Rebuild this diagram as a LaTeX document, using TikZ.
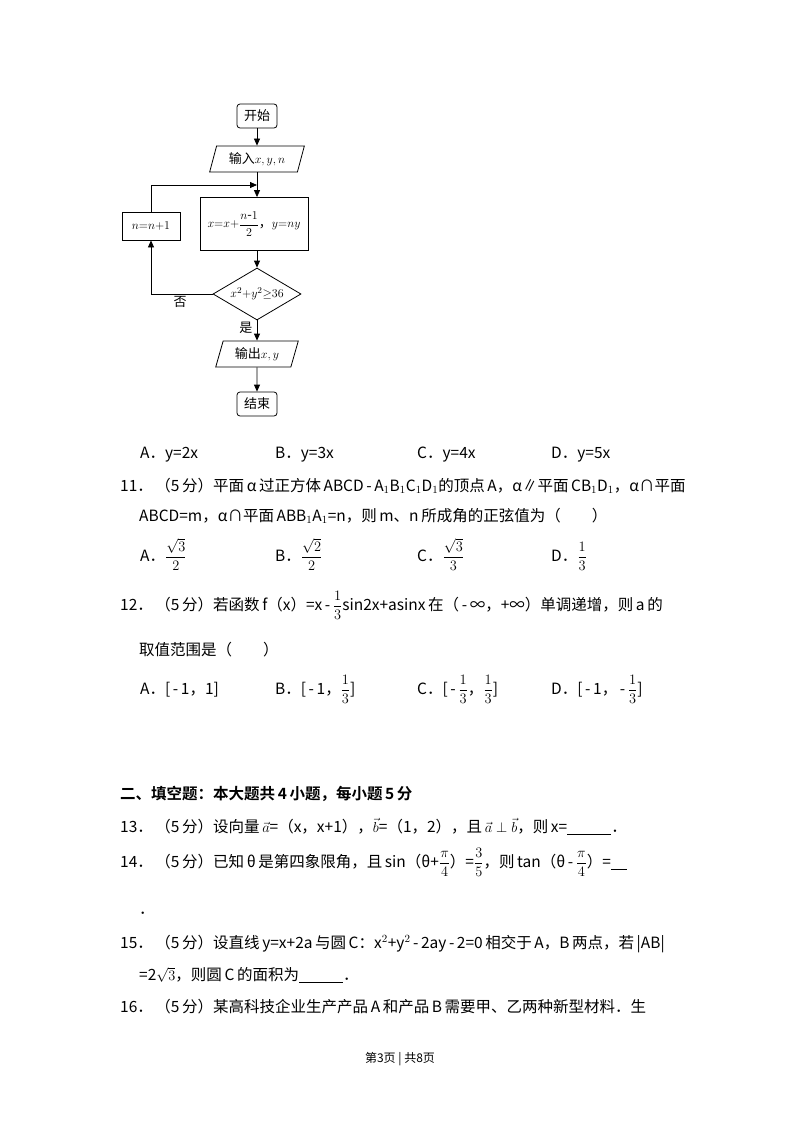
\documentclass[tikz,border=0pt]{standalone}
\usepackage{fontspec}
\usepackage{amsmath}
\setmainfont{Noto Sans CJK SC}
\newfontfamily\bfcjk{Noto Sans CJK SC Bold}
\usetikzlibrary{shapes.geometric,arrows.meta}
\tikzset{
  fc/.style={draw,line width=0.8pt,inner sep=0pt,font=\fontsize{13}{15}\selectfont},
  term/.style={fc,rounded corners=3pt,minimum width=40pt,minimum height=24pt},
  io/.style={fc,trapezium,trapezium left angle=70,trapezium right angle=110,minimum height=26pt,trapezium stretches=true},
  proc/.style={fc,rectangle},
  dec/.style={fc,diamond,aspect=1.7,minimum width=88pt,minimum height=52pt},
  arr/.style={-{Triangle[length=7pt,width=6pt]},line width=0.8pt},
  txt/.style={anchor=base west,inner sep=0pt,font=\fontsize{15.5}{18}\selectfont},
}
\begin{document}
\begin{tikzpicture}[x=1pt,y=-1pt]
\fill[white] (0,0) rectangle (800,1132);
\useasboundingbox (0,0) rectangle (800,1132);
% flowchart
\node[term] (s) at (257,116) {开始};
\node[io,minimum width=95pt] (in) at (257,159) {输入$x,y,n$};
\node[proc,minimum width=108pt,minimum height=53pt] (p) at (254,224) {$x{=}x{+}\dfrac{n\text{-}1}{2}$，$y{=}ny$};
\node[proc,minimum width=58pt,minimum height=28pt] (nn) at (151,226) {$n{=}n{+}1$};
\node[dec] (d) at (257,294) {$x^2{+}y^2{\geq}36$};
\node[io,minimum width=83pt] (out) at (257,354) {输出$x,y$};
\node[term] (e) at (257,404) {结束};
\coordinate (c1) at (151,294);
\coordinate (c2) at (151,185);
\coordinate (c3) at (257,185);
\draw[arr] (s) -- (in);
\draw[arr] (in.south -| c3) -- (p.north -| c3);
\draw[arr] (p.south -| c3) -- (d);
\draw[arr] (d) -- (out) node[pos=0.35,left=1pt,font=\fontsize{13}{15}\selectfont]{是};
\draw[arr] (out) -- (e);
\draw[arr] (d.west) -- (c1) -- (nn.south);
\draw[arr] (nn.north) -- (c2) -- (c3);
\node[font=\fontsize{13}{15}\selectfont] (no) at (180,302) {否};
% options 10
\node[txt] (a10) at (140,458) {A．y=2x};
\node[txt] (b10) at (275,458) {B．y=3x};
\node[txt] (c10) at (417,458) {C．y=4x};
\node[txt] (d10) at (551,458) {D．y=5x};
% 11
\node[txt] (q11) at (120,491) {11．\,（5\,分）平面\,α\,过正方体\,ABCD\,-\,A$_1$B$_1$C$_1$D$_1$的顶点\,A，α∥平面\,CB$_1$D$_1$，α∩平面};
\node[txt] (q11b) at (139,521) {ABCD=m，α∩平面\,ABB$_1$A$_1$=n，则\,m、n\,所成角的正弦值为（\qquad）};
\node[txt] (a11) at (140,561) {A．$\dfrac{\sqrt3}{2}$};
\node[txt] (b11) at (275,561) {B．$\dfrac{\sqrt2}{2}$};
\node[txt] (c11) at (417,561) {C．$\dfrac{\sqrt3}{3}$};
\node[txt] (d11) at (551,561) {D．$\dfrac{1}{3}$};
% 12
\node[txt] (q12) at (120,610) {12．\,（5\,分）若函数\,f（x）=x\,-\,$\dfrac13$sin2x+asinx\,在（\,-\,∞，+∞）单调递增，则\,a\,的};
\node[txt] (q12b) at (139,655) {取值范围是（\qquad）};
\node[txt] (a12) at (140,694) {A．[\,-\,1，1]};
\node[txt] (b12) at (275,694) {B．[\,-\,1，$\dfrac13$]};
\node[txt] (c12) at (417,694) {C．[\,-\,$\dfrac13$，$\dfrac13$]};
\node[txt] (d12) at (551,694) {D．[\,-\,1，\,-\,$\dfrac13$]};
% section
\node[txt,font=\fontsize{15.5}{18}\bfcjk] (sec) at (120,799) {二、填空题：本大题共\,4\,小题，每小题\,5\,分};
\node[txt] (q13) at (120,832) {13．\,（5\,分）设向量\,$\vec a$=（x，x+1），$\vec b$=（1，2），且\,$\vec a\perp\vec b$，则\,x=\underline{\hspace{44pt}}．};
\node[txt] (q14) at (120,867) {14．\,（5\,分）已知\,θ\,是第四象限角，且\,sin（θ+$\dfrac{\pi}{4}$）=$\dfrac35$，则\,tan（θ\,-\,$\dfrac{\pi}{4}$）=\underline{\hspace{16pt}}};
\node[txt] (q14b) at (139,914) {．};
\node[txt] (q15) at (120,948) {15．\,（5\,分）设直线\,y=x+2a\,与圆\,C：x$^2$+y$^2$\,-\,2ay\,-\,2=0\,相交于\,A，B\,两点，若\,|AB|};
\node[txt] (q15b) at (139,980) {=2$\sqrt3$，则圆\,C\,的面积为\underline{\hspace{44pt}}．};
\node[txt] (q16) at (120,1012) {16．\,（5\,分）某高科技企业生产产品\,A\,和产品\,B\,需要甲、乙两种新型材料．生};
\node[anchor=base,inner sep=0pt,font=\fontsize{12}{14}\selectfont] (ft) at (400,1062) {第3页 | 共8页};
\end{tikzpicture}
\end{document}
